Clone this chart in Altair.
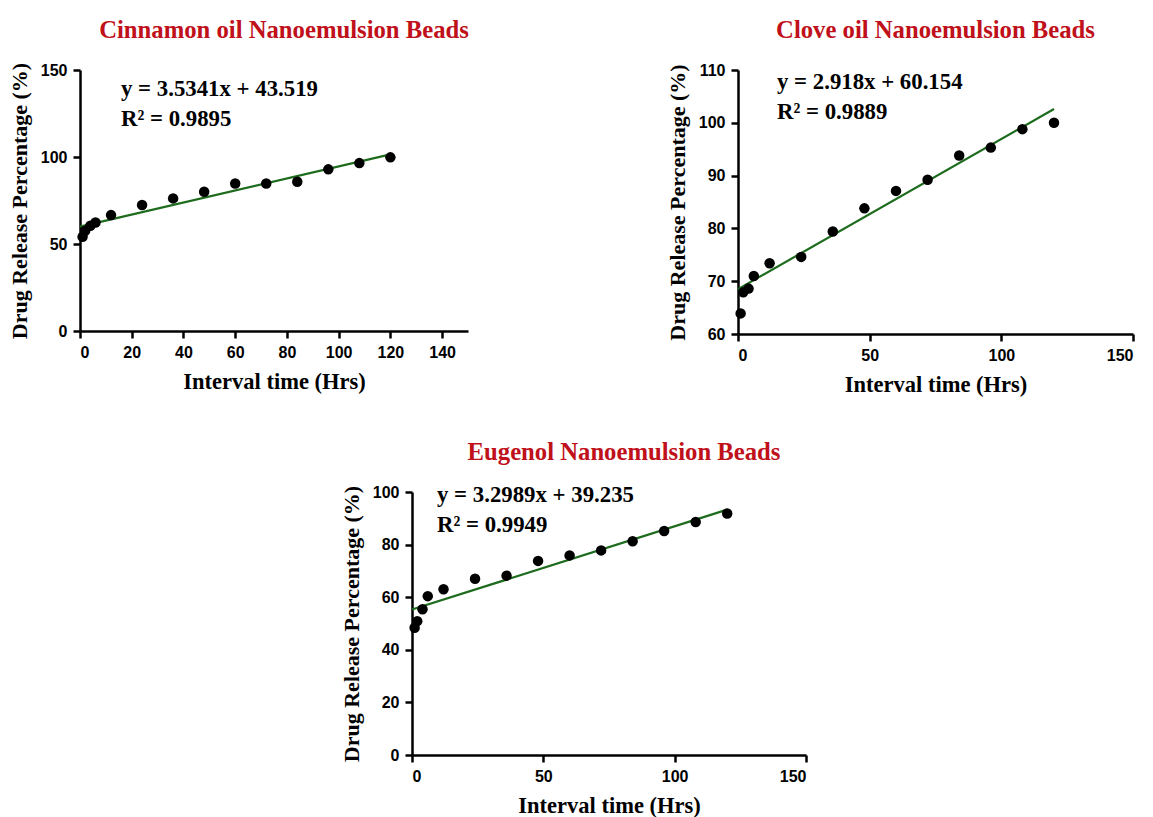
import altair as alt
import pandas as pd

# ---- data ----
times = [1, 2, 4, 6, 12, 24, 36, 48, 60, 72, 84, 96, 108, 120]
cinnamon = [54.1, 57.6, 60.5, 62.4, 66.6, 72.4, 76.2, 80.0, 84.8, 84.8, 85.8, 92.9, 96.5, 99.8]
clove = [63.9, 67.9, 68.6, 71.0, 73.4, 74.6, 79.4, 83.8, 87.1, 89.2, 93.8, 95.3, 98.8, 100.0]
eugenol = [48.4, 50.9, 55.4, 60.4, 63.0, 67.0, 68.2, 73.8, 75.9, 77.8, 81.3, 85.2, 88.6, 91.8]

fit_x = [0, 120]
cinnamon_fit = [60.0, 101.5]
clove_fit = [68.5, 102.6]
eugenol_fit = [55.3, 93.3]

titles = ["Cinnamon oil Nanoemulsion Beads", "Clove oil Nanoemulsion Beads", "Eugenol Nanoemulsion Beads"]
equations = ["y = 3.5341x + 43.519", "y = 2.918x + 60.154", "y = 3.2989x + 39.235"]
r2_texts = ["R² = 0.9895", "R² = 0.9889", "R² = 0.9949"]

x_ticks_a = [0, 20, 40, 60, 80, 100, 120, 140]
x_ticks_b = [0, 50, 100, 150]
y_ticks_a = [0, 50, 100, 150]
y_ticks_b = [60, 70, 80, 90, 100, 110]
y_ticks_c = [0, 20, 40, 60, 80, 100]

GREEN = "#1d6b1d"
RED = "#c0101a"
SERIF = "Liberation Serif"
SANS = "Liberation Sans"


def panel(title, yvals, fit_y, ydom, yticks, xticks, eq, r2, w, h, tx, ty, tdx):
    df = pd.DataFrame({"t": times, "v": yvals})
    fit = pd.DataFrame({"t": fit_x, "v": fit_y})
    x = alt.X("t:Q", scale=alt.Scale(domain=[0, 150], nice=False, zero=False),
              axis=alt.Axis(values=xticks, title="Interval time (Hrs)",
                            labelPadding=6, titlePadding=10, titleFontSize=22.5))
    y = alt.Y("v:Q", scale=alt.Scale(domain=ydom, nice=False, zero=False),
              axis=alt.Axis(values=yticks, title="Drug Release Percentage (%)",
                            labelPadding=6, titlePadding=9, titleFontSize=22))
    ln = alt.Chart(fit).mark_line(color=GREEN, strokeWidth=2.2).encode(x=x, y=y)
    pts = alt.Chart(df).mark_circle(size=110, color="black", opacity=1).encode(x=x, y=y)
    txt = alt.Chart(pd.DataFrame({"s": [eq + "\n" + r2]})).mark_text(
        font=SERIF, fontSize=22.8, fontWeight="bold", color="black",
        align="left", baseline="top", lineBreak="\n", lineHeight=29.5
    ).encode(text="s:N", x=alt.value(tx), y=alt.value(ty))
    return alt.layer(ln, pts, txt).properties(
        width=w, height=h,
        title=alt.TitleParams(title, font=SERIF, fontSize=24.7, fontWeight="bold",
                              color=RED, anchor="middle", frame="group", offset=19, dx=tdx),
    )


p1 = panel(titles[0], cinnamon, cinnamon_fit, [0, 150], y_ticks_a, x_ticks_a,
           equations[0], r2_texts[0], 388, 261, 41, 8, 10)
p2 = panel(titles[1], clove, clove_fit, [60, 110], y_ticks_b, x_ticks_b,
           equations[1], r2_texts[1], 395, 264, 39, 1, 0)
p3 = panel(titles[2], eugenol, eugenol_fit, [0, 100], y_ticks_c, x_ticks_b,
           equations[2], r2_texts[2], 394, 263, 25, -8, 15)

spacer = alt.Chart(pd.DataFrame({"a": [0]})).mark_point(opacity=0).properties(width=260, height=10)

top = alt.hconcat(p1, p2, spacing=197)
bottom = alt.hconcat(spacer, p3, spacing=0)

chart = alt.vconcat(top, bottom, spacing=44).properties(
    padding={"left": 0, "top": 10, "right": 5, "bottom": 0}
).configure_view(stroke=None).configure_axis(
    grid=False,
    domainColor="black", domainWidth=2.5,
    tickColor="black", tickWidth=2.5, tickSize=7,
    labelFont=SANS, labelFontSize=16, labelFontWeight="bold", labelColor="black",
    titleFont=SERIF, titleFontWeight="bold", titleColor="black",
)

chart.save("out.html", embed_options={"renderer": "svg", "actions": False})
